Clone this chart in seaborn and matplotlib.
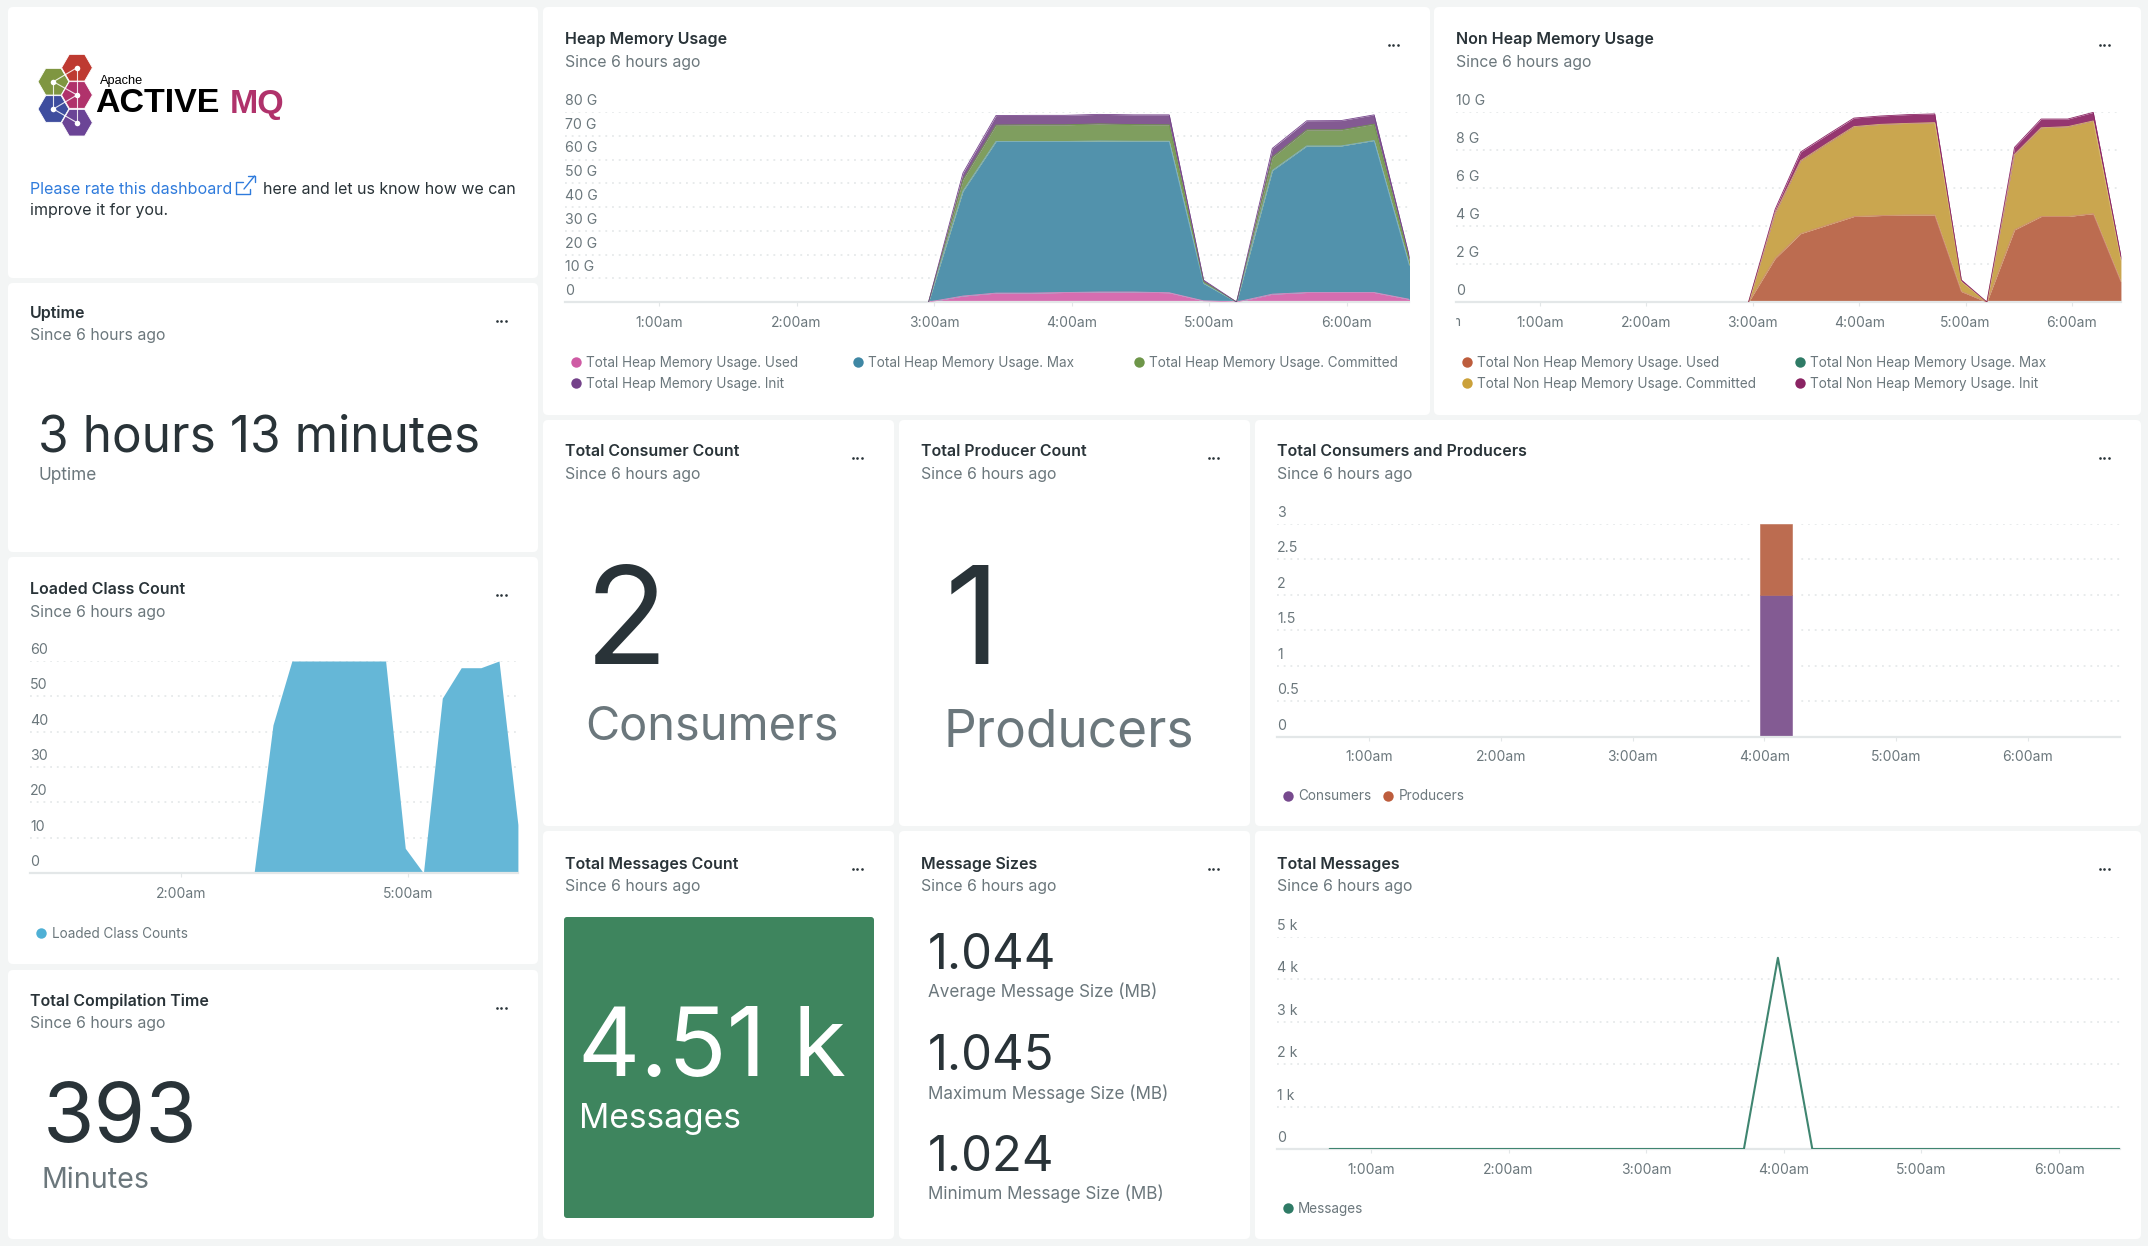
import numpy as np
import seaborn as sns
import matplotlib.pyplot as plt
from matplotlib.patches import FancyBboxPatch, RegularPolygon
from matplotlib.transforms import ScaledTranslation, Bbox

W, H = 2148, 1246
BG = '#F3F5F5'
DARK = '#293338'
GREY = '#6B777C'

# Data
hour_labels = ['1:00am', '2:00am', '3:00am', '4:00am', '5:00am', '6:00am']
hour_ticks = [1, 2, 3, 4, 5, 6]

mem_hours = [2.96, 3.21, 3.45, 3.70, 3.95, 4.20, 4.45, 4.71, 4.96, 5.20, 5.46, 5.71, 5.96, 6.20, 6.46]

heap_used = [0, 2.5, 3.75, 3.75, 4.0, 4.2, 4.2, 3.9, 0.5, 0, 3.3, 4.0, 4.0, 4.0, 1.1]
heap_max = [0, 44.2, 63.85, 63.85, 63.6, 63.6, 63.5, 63.8, 7.3, 0, 52.1, 61.7, 61.7, 64.0, 13.6]
heap_committed = [0, 4.8, 6.9, 7.0, 7.0, 7.2, 7.0, 6.9, 0.7, 0, 5.6, 6.8, 6.8, 6.9, 2.1]
heap_init = [0, 2.8, 4.0, 4.0, 4.0, 4.0, 4.1, 4.2, 0.7, 0, 3.7, 3.8, 3.9, 3.9, 1.4]

nonheap_used = [0, 2.3, 3.6, 4.05, 4.5, 4.55, 4.58, 4.58, 0.55, 0, 3.8, 4.5, 4.5, 4.65, 1.07]
nonheap_max = [0, 0, 0, 0, 0, 0, 0, 0, 0, 0, 0, 0, 0, 0, 0]
nonheap_committed = [0, 2.37, 3.84, 4.3, 4.73, 4.8, 4.82, 4.86, 0.52, 0, 3.97, 4.67, 4.73, 4.88, 1.13]
nonheap_init = [0, 0.21, 0.46, 0.45, 0.45, 0.44, 0.46, 0.46, 0.09, 0, 0.37, 0.46, 0.4, 0.45, 0.2]

class_hours = [2.96, 3.21, 3.46, 4.70, 4.96, 5.20, 5.45, 5.70, 5.96, 6.20, 6.45]
class_counts = [0, 41.9, 60, 60, 7, 0, 49.5, 58.1, 58.1, 60, 13.7]

bar_hour = [4.09]
consumers = [2]
producers = [1]

msg_hours = [0.70, 3.71, 3.957, 4.207, 6.44]
msg_counts = [0, 0, 4510, 0, 0]

sns.set_theme(style='white')
plt.rcParams['font.family'] = ['Inter', 'DejaVu Sans']

fig = plt.figure(figsize=(W / 100, H / 100), dpi=100, facecolor=BG)
ov = fig.add_axes([0, 0, 1, 1])
ov.set_xlim(0, W)
ov.set_ylim(H, 0)
ov.axis('off')


def card(x0, y0, x1, y1, title=None, title_y=None):
    ov.add_patch(FancyBboxPatch((x0 + 5, y0 + 5), x1 - x0 - 10, y1 - y0 - 10,
                                boxstyle='round,pad=5,rounding_size=5', fc='white', ec='none'))
    if title:
        tx = x0 + 22
        ov.text(tx, title_y + 1, title, fontsize=11.5, weight=600, color=DARK, va='center')
        ov.text(tx, title_y + 23.5, 'Since 6 hours ago', fontsize=11.4, color=GREY, va='center')
        ov.plot([x1 - 41.5, x1 - 37, x1 - 32.5], [y0 + 38] * 3, 'o', ms=1.9, color=DARK, mew=0)


def legend(items):
    for x, y, label, color in items:
        ov.plot([x], [y], 'o', ms=7.5, color=color, mew=0)
        ov.text(x + 10.5, y + 1, label, fontsize=9.75, color=GREY, va='center')


def chart(x0, y0, x1, y1, xlim, ymax, yticks, ylabels, xticks=hour_ticks, xlabels=hour_labels):
    ax = fig.add_axes([x0 / W, 1 - y1 / H, (x1 - x0) / W, (y1 - y0) / H])
    ax.patch.set_alpha(0)
    ax.set_xlim(*xlim)
    ax.set_ylim(0, ymax)
    for side in ['top', 'left', 'right']:
        ax.spines[side].set_visible(False)
    ax.spines['bottom'].set_color('#E3E7E8')
    ax.spines['bottom'].set_linewidth(1.6)
    ax.set_yticks(yticks)
    ax.set_yticklabels(ylabels)
    ax.set_xticks(xticks)
    ax.set_xticklabels(xlabels)
    ax.yaxis.grid(True, color='#E2E6E7', lw=1.1, ls=(0, (1.2, 3.2)))
    ax.set_axisbelow(True)
    ax.tick_params(axis='y', length=0, pad=0, labelsize=10.2, labelcolor=GREY)
    ax.tick_params(axis='x', bottom=True, length=3, width=0.8, color='#E3E7E8', pad=7,
                   labelsize=10, labelcolor=GREY)
    shift = ScaledTranslation(0, 4 / 100, fig.dpi_scale_trans)
    for lab in ax.get_yticklabels():
        lab.set_ha('left')
        lab.set_va('bottom')
        lab.set_transform(lab.get_transform() + shift)
    ax.set_xlabel('')
    ax.set_ylabel('')
    return ax


def stack(ax, hours, series, fills, edges):
    ax.stackplot(hours, series, colors=fills, lw=0, zorder=2)
    top = np.zeros(len(hours))
    for vals, edge in zip(series, edges):
        top = top + np.array(vals)
        if any(vals):
            sns.lineplot(x=hours, y=top, color=edge, lw=0.6, ax=ax, legend=False, zorder=3)
    ax.set_xlabel('')
    ax.set_ylabel('')


# cards
card(8, 7, 538, 278)
card(8, 283, 538, 552, 'Uptime', 312)
card(8, 557, 538, 964, 'Loaded Class Count', 589)
card(8, 970, 538, 1239, 'Total Compilation Time', 1000)
card(543, 7, 1430, 415, 'Heap Memory Usage', 38.5)
card(1434, 7, 2141, 415, 'Non Heap Memory Usage', 38.5)
card(543, 420, 894, 826, 'Total Consumer Count', 451)
card(899, 420, 1250, 826, 'Total Producer Count', 451)
card(1255, 420, 2141, 826, 'Total Consumers and Producers', 451)
card(543, 831, 894, 1239, 'Total Messages Count', 863)
card(899, 831, 1250, 1239, 'Message Sizes', 863)
card(1255, 831, 2141, 1239, 'Total Messages', 863)

# logo
hexes = [(77, 67.7, '#BE3A31'), (53.4, 81.7, '#7F9641'), (77, 95, '#B0326B'),
         (53.4, 109, '#3E4D9E'), (77, 122.7, '#6B4496')]
for hx, hy, col in hexes:
    ov.add_patch(RegularPolygon((hx, hy), 6, radius=15.4, orientation=np.pi / 6, fc=col, ec='white', lw=0.6))
links = [(0, 1), (1, 2), (1, 3), (0, 4), (3, 2), (3, 4)]
for a, b in links:
    ov.plot([hexes[a][0], hexes[b][0]], [hexes[a][1], hexes[b][1]], color='white', lw=0.8, alpha=0.85)
ov.plot([h[0] for h in hexes], [h[1] for h in hexes], 'o', ms=4, color='white', mew=0)
ov.text(100, 81, 'Apache', fontsize=9.2, family='Liberation Sans', color='black', va='center')
ov.text(95, 104, 'ACTIVE', fontsize=24.5, weight='bold', family='Liberation Sans', color='black', va='center')
ov.text(230, 104, 'MQ', fontsize=24.5, weight='bold', family='Liberation Sans', color='#B0326B', va='center')

# rate link
ov.text(30, 189.5, 'Please rate this dashboard', fontsize=11.55, color='#2F7BDC', va='center')
ov.plot([243, 236, 236, 250, 250], [182, 182, 193.5, 193.5, 189], color='#2F7BDC', lw=1)
ov.plot([244, 254.5], [189, 176], color='#2F7BDC', lw=1)
ov.plot([248, 254.5, 254.5], [175.5, 175.5, 182], color='#2F7BDC', lw=1)
ov.text(263, 189.5, 'here and let us know how we can', fontsize=11.5, color=DARK, va='center')
ov.text(30, 211, 'improve it for you.', fontsize=11.5, color=DARK, va='center')

# stat panels
ov.text(38, 438, '3 hours 13 minutes', fontsize=35.7, color=DARK, va='center')
ov.text(38, 476, 'Uptime', fontsize=12.4, color=GREY, va='center')
ov.text(43, 1120, '393', fontsize=60, color=DARK, va='center')
ov.text(42, 1181, 'Minutes', fontsize=20.6, color=GREY, va='center')
ov.text(585, 628, '2', fontsize=98, color=DARK, va='center')
ov.text(585, 727, 'Consumers', fontsize=33.8, color=GREY, va='center')
ov.text(945, 628, '1', fontsize=98, color=DARK, va='center')
ov.text(943, 733, 'Producers', fontsize=37, color=GREY, va='center')

ov.add_patch(FancyBboxPatch((567, 920), 304, 295, boxstyle='round,pad=3,rounding_size=3', fc='#3E855E', ec='none'))
ov.text(578, 1051, '4.51 k', fontsize=69.5, color='white', va='center')
ov.text(579, 1119, 'Messages', fontsize=24.1, color='white', va='center')

sizes = [('1.044', 'Average Message Size (MB)', 956, 992),
         ('1.045', 'Maximum Message Size (MB)', 1057, 1094),
         ('1.024', 'Minimum Message Size (MB)', 1158, 1194)]
for val, lab, y1, y2 in sizes:
    ov.text(928, y1, val, fontsize=35.3, color=DARK, va='center')
    ov.text(928, y2, lab, fontsize=12.3, color=GREY, va='center')

# heap
ax = chart(565, 112, 1408.5, 302, (0.316, 6.45), 80, range(0, 90, 10),
           ['0', '10 G', '20 G', '30 G', '40 G', '50 G', '60 G', '70 G', '80 G'])
stack(ax, mem_hours, [heap_used, heap_max, heap_committed, heap_init],
      ['#D66DB0', '#5292AC', '#7F9E5F', '#835A92'], ['#E08CC4', '#7FB3C6', '#6E9649', '#74428A'])
legend([(575.6, 361.7, 'Total Heap Memory Usage. Used', '#CF5BA4'),
        (857.5, 361.7, 'Total Heap Memory Usage. Max', '#3F87A4'),
        (1138.7, 361.7, 'Total Heap Memory Usage. Committed', '#6E9649'),
        (575.6, 383, 'Total Heap Memory Usage. Init', '#74428A')])

# non heap
ax = chart(1456, 112, 2120.5, 302, (0.21, 6.456), 10, range(0, 12, 2),
           ['0', '2 G', '4 G', '6 G', '8 G', '10 G'])
stack(ax, mem_hours, [nonheap_used, nonheap_max, nonheap_committed, nonheap_init],
      ['#BC6C50', '#2F7F6B', '#CAA64F', '#953670'], ['#D08F76', '#2F7F6B', '#D9BC72', '#8A2463'])
cut = ax.text(0, -0.07, '12:00am', transform=ax.get_xaxis_transform(), ha='center', va='top',
              fontsize=10, color=GREY, clip_on=True)
cut.set_clip_box(Bbox([[1456, 0], [1500, H]]))
legend([(1466.6, 361.7, 'Total Non Heap Memory Usage. Used', '#BD5D3D'),
        (1799.5, 361.7, 'Total Non Heap Memory Usage. Max', '#2F7B66'),
        (1466.6, 383, 'Total Non Heap Memory Usage. Committed', '#CBA13A'),
        (1799.5, 383, 'Total Non Heap Memory Usage. Init', '#8A2463')])

# loaded classes
ax = chart(30, 661, 517.6, 873, (-0.004, 6.446), 60, range(0, 70, 10),
           ['0', '10', '20', '30', '40', '50', '60'], xticks=[2, 5], xlabels=['2:00am', '5:00am'])
ax.stackplot(class_hours, class_counts, colors=['#65B7D7'], lw=0, zorder=2)
legend([(41.3, 932.7, 'Loaded Class Counts', '#4FB0D5')])

# consumers and producers
ax = chart(1277, 524, 2120, 736.5, (0.30, 6.70), 3, [0, 0.5, 1, 1.5, 2, 2.5, 3],
           ['0', '0.5', '1', '1.5', '2', '2.5', '3'])
ax.axvspan(bar_hour[0] - 0.17, bar_hour[0] + 0.17, color='white', lw=0, zorder=1.5)
ax.bar(bar_hour, consumers, width=0.24, color='#835B93', ec='#835B93', lw=0.4, zorder=2)
ax.bar(bar_hour, producers, width=0.24, bottom=consumers, color='#BC6C50', ec='#BC6C50', lw=0.4, zorder=2)
legend([(1287.7, 795.5, 'Consumers', '#774A8E'), (1388, 795.5, 'Producers', '#BD5D3D')])

# messages
ax = chart(1277, 937, 2120, 1149, (0.317, 6.443), 5000, range(0, 6000, 1000),
           ['0', '1 k', '2 k', '3 k', '4 k', '5 k'])
sns.lineplot(x=msg_hours, y=msg_counts, color='#3F8570', lw=1.5, ax=ax, legend=False, zorder=3)
ax.set_xlabel('')
ax.set_ylabel('')
legend([(1287.7, 1207.5, 'Messages', '#2F7B66')])

fig.savefig('out.png', dpi=100, facecolor=BG)
